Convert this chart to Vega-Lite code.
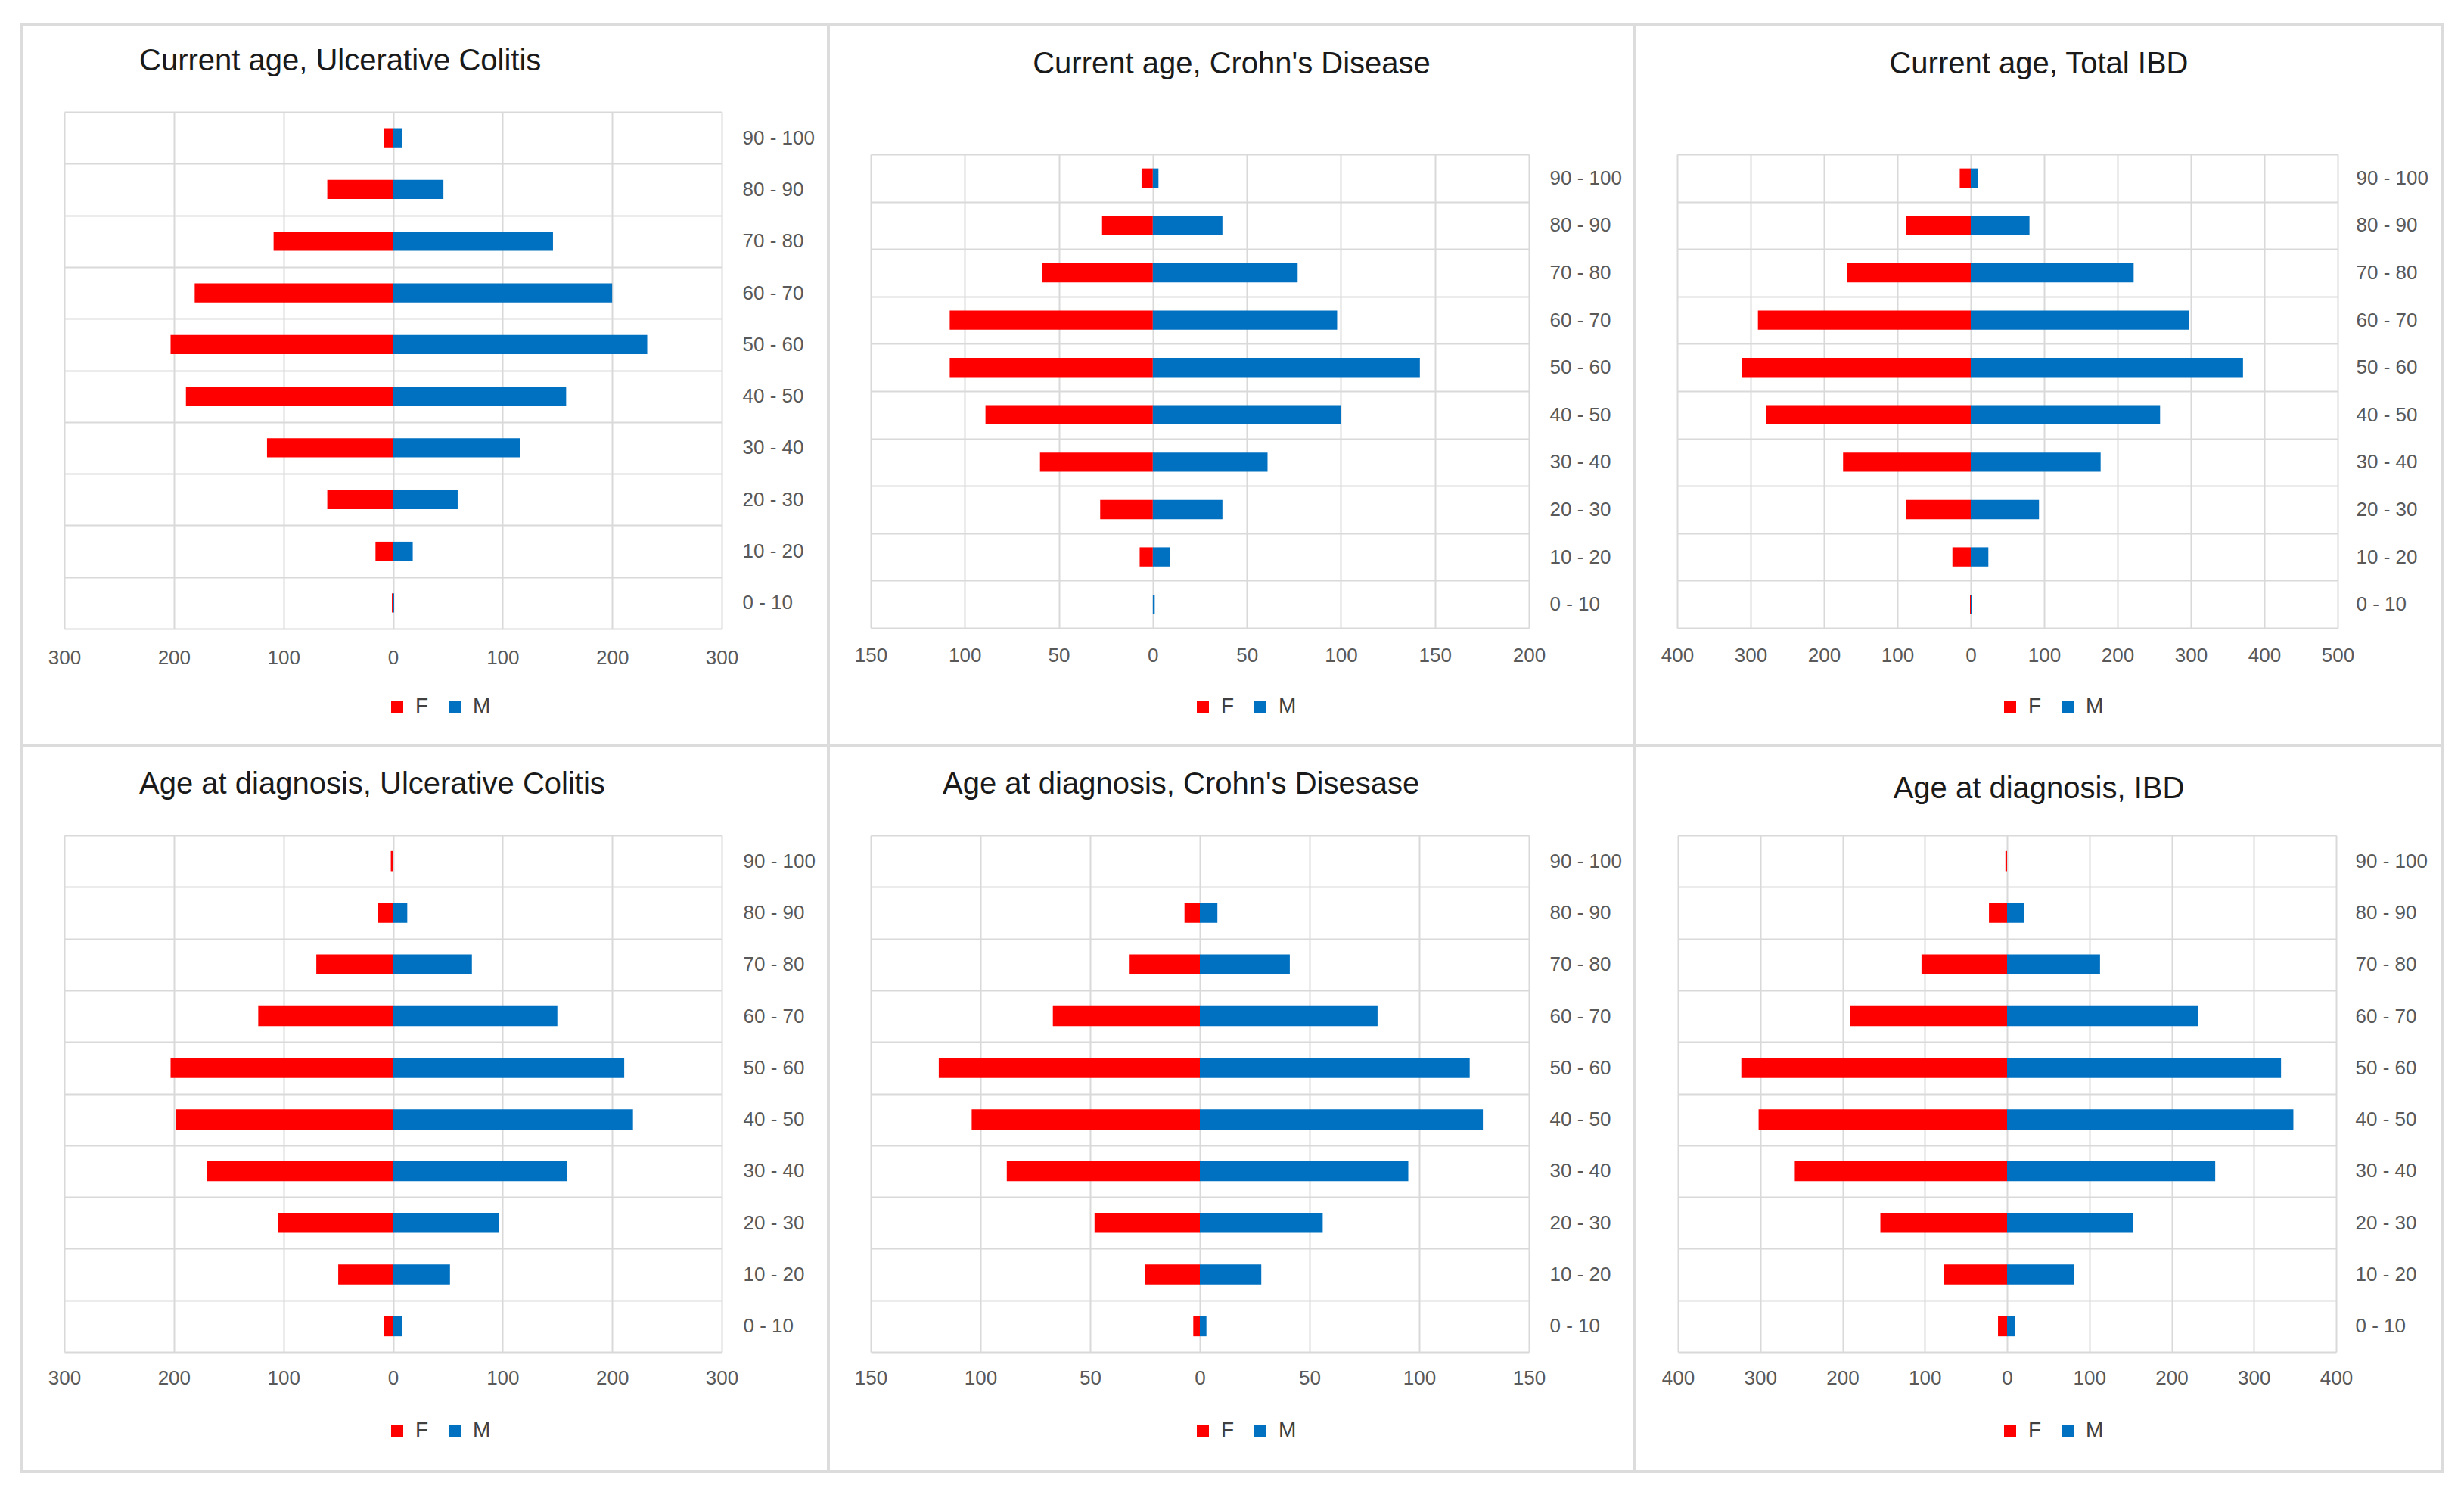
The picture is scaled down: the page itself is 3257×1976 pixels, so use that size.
{
  "$schema": "https://vega.github.io/schema/vega-lite/v6.json",
  "padding": {"left": 27, "top": 18, "right": 20, "bottom": 20},
  "background": "white",
  "config": {
    "font": "Liberation Sans",
    "view": {"stroke": "#dcdcdc", "strokeWidth": 4, "fill": "white"},
    "axis": {"domain": false, "ticks": false, "tickSize": 0, "gridColor": "#d9d9d9", "gridWidth": 2, "labelFontSize": 26, "labelColor": "#595959", "labelFlush": false, "labelOverlap": false, "labelBound": false, "labelFont": "Liberation Sans", "title": null},
    "legend": {"symbolType": "square", "symbolSize": 256, "labelFontSize": 28, "labelColor": "#404040", "labelFont": "Liberation Sans", "labelOffset": 10, "columnPadding": 20, "padding": 0, "symbolStrokeWidth": 0, "title": null},
    "title": {"fontSize": 40, "fontWeight": "normal", "color": "#1a1a1a", "font": "Liberation Sans"}
  },
  "datasets": {
    "p1": [
      {"age": "0 - 10", "sex": "F", "n": -1}, {"age": "0 - 10", "sex": "M", "n": 1},
      {"age": "10 - 20", "sex": "F", "n": -16}, {"age": "10 - 20", "sex": "M", "n": 18},
      {"age": "20 - 30", "sex": "F", "n": -60}, {"age": "20 - 30", "sex": "M", "n": 59},
      {"age": "30 - 40", "sex": "F", "n": -115}, {"age": "30 - 40", "sex": "M", "n": 116},
      {"age": "40 - 50", "sex": "F", "n": -189}, {"age": "40 - 50", "sex": "M", "n": 158},
      {"age": "50 - 60", "sex": "F", "n": -203}, {"age": "50 - 60", "sex": "M", "n": 232},
      {"age": "60 - 70", "sex": "F", "n": -181}, {"age": "60 - 70", "sex": "M", "n": 200},
      {"age": "70 - 80", "sex": "F", "n": -109}, {"age": "70 - 80", "sex": "M", "n": 146},
      {"age": "80 - 90", "sex": "F", "n": -60}, {"age": "80 - 90", "sex": "M", "n": 46},
      {"age": "90 - 100", "sex": "F", "n": -8}, {"age": "90 - 100", "sex": "M", "n": 8}
    ],
    "p2": [
      {"age": "0 - 10", "sex": "F", "n": 0}, {"age": "0 - 10", "sex": "M", "n": 1},
      {"age": "10 - 20", "sex": "F", "n": -7}, {"age": "10 - 20", "sex": "M", "n": 9},
      {"age": "20 - 30", "sex": "F", "n": -28}, {"age": "20 - 30", "sex": "M", "n": 37},
      {"age": "30 - 40", "sex": "F", "n": -60}, {"age": "30 - 40", "sex": "M", "n": 61},
      {"age": "40 - 50", "sex": "F", "n": -89}, {"age": "40 - 50", "sex": "M", "n": 100},
      {"age": "50 - 60", "sex": "F", "n": -108}, {"age": "50 - 60", "sex": "M", "n": 142},
      {"age": "60 - 70", "sex": "F", "n": -108}, {"age": "60 - 70", "sex": "M", "n": 98},
      {"age": "70 - 80", "sex": "F", "n": -59}, {"age": "70 - 80", "sex": "M", "n": 77},
      {"age": "80 - 90", "sex": "F", "n": -27}, {"age": "80 - 90", "sex": "M", "n": 37},
      {"age": "90 - 100", "sex": "F", "n": -6}, {"age": "90 - 100", "sex": "M", "n": 3}
    ],
    "p3": [
      {"age": "0 - 10", "sex": "F", "n": -1}, {"age": "0 - 10", "sex": "M", "n": 2},
      {"age": "10 - 20", "sex": "F", "n": -25}, {"age": "10 - 20", "sex": "M", "n": 24},
      {"age": "20 - 30", "sex": "F", "n": -88}, {"age": "20 - 30", "sex": "M", "n": 93},
      {"age": "30 - 40", "sex": "F", "n": -174}, {"age": "30 - 40", "sex": "M", "n": 177},
      {"age": "40 - 50", "sex": "F", "n": -279}, {"age": "40 - 50", "sex": "M", "n": 258},
      {"age": "50 - 60", "sex": "F", "n": -312}, {"age": "50 - 60", "sex": "M", "n": 371},
      {"age": "60 - 70", "sex": "F", "n": -290}, {"age": "60 - 70", "sex": "M", "n": 297},
      {"age": "70 - 80", "sex": "F", "n": -169}, {"age": "70 - 80", "sex": "M", "n": 222},
      {"age": "80 - 90", "sex": "F", "n": -88}, {"age": "80 - 90", "sex": "M", "n": 80},
      {"age": "90 - 100", "sex": "F", "n": -15}, {"age": "90 - 100", "sex": "M", "n": 10}
    ],
    "p4": [
      {"age": "0 - 10", "sex": "F", "n": -8}, {"age": "0 - 10", "sex": "M", "n": 8},
      {"age": "10 - 20", "sex": "F", "n": -50}, {"age": "10 - 20", "sex": "M", "n": 52},
      {"age": "20 - 30", "sex": "F", "n": -105}, {"age": "20 - 30", "sex": "M", "n": 97},
      {"age": "30 - 40", "sex": "F", "n": -170}, {"age": "30 - 40", "sex": "M", "n": 159},
      {"age": "40 - 50", "sex": "F", "n": -198}, {"age": "40 - 50", "sex": "M", "n": 219},
      {"age": "50 - 60", "sex": "F", "n": -203}, {"age": "50 - 60", "sex": "M", "n": 211},
      {"age": "60 - 70", "sex": "F", "n": -123}, {"age": "60 - 70", "sex": "M", "n": 150},
      {"age": "70 - 80", "sex": "F", "n": -70}, {"age": "70 - 80", "sex": "M", "n": 72},
      {"age": "80 - 90", "sex": "F", "n": -14}, {"age": "80 - 90", "sex": "M", "n": 13},
      {"age": "90 - 100", "sex": "F", "n": -2}, {"age": "90 - 100", "sex": "M", "n": 0}
    ],
    "p5": [
      {"age": "0 - 10", "sex": "F", "n": -3}, {"age": "0 - 10", "sex": "M", "n": 3},
      {"age": "10 - 20", "sex": "F", "n": -25}, {"age": "10 - 20", "sex": "M", "n": 28},
      {"age": "20 - 30", "sex": "F", "n": -48}, {"age": "20 - 30", "sex": "M", "n": 56},
      {"age": "30 - 40", "sex": "F", "n": -88}, {"age": "30 - 40", "sex": "M", "n": 95},
      {"age": "40 - 50", "sex": "F", "n": -104}, {"age": "40 - 50", "sex": "M", "n": 129},
      {"age": "50 - 60", "sex": "F", "n": -119}, {"age": "50 - 60", "sex": "M", "n": 123},
      {"age": "60 - 70", "sex": "F", "n": -67}, {"age": "60 - 70", "sex": "M", "n": 81},
      {"age": "70 - 80", "sex": "F", "n": -32}, {"age": "70 - 80", "sex": "M", "n": 41},
      {"age": "80 - 90", "sex": "F", "n": -7}, {"age": "80 - 90", "sex": "M", "n": 8},
      {"age": "90 - 100", "sex": "F", "n": 0}, {"age": "90 - 100", "sex": "M", "n": 0}
    ],
    "p6": [
      {"age": "0 - 10", "sex": "F", "n": -11}, {"age": "0 - 10", "sex": "M", "n": 10},
      {"age": "10 - 20", "sex": "F", "n": -77}, {"age": "10 - 20", "sex": "M", "n": 81},
      {"age": "20 - 30", "sex": "F", "n": -154}, {"age": "20 - 30", "sex": "M", "n": 153},
      {"age": "30 - 40", "sex": "F", "n": -258}, {"age": "30 - 40", "sex": "M", "n": 253},
      {"age": "40 - 50", "sex": "F", "n": -302}, {"age": "40 - 50", "sex": "M", "n": 348},
      {"age": "50 - 60", "sex": "F", "n": -323}, {"age": "50 - 60", "sex": "M", "n": 333},
      {"age": "60 - 70", "sex": "F", "n": -191}, {"age": "60 - 70", "sex": "M", "n": 232},
      {"age": "70 - 80", "sex": "F", "n": -104}, {"age": "70 - 80", "sex": "M", "n": 113},
      {"age": "80 - 90", "sex": "F", "n": -22}, {"age": "80 - 90", "sex": "M", "n": 21},
      {"age": "90 - 100", "sex": "F", "n": -2}, {"age": "90 - 100", "sex": "M", "n": 0}
    ]
  },
  "columns": 3,
  "spacing": 0,
  "bounds": "flush",
  "align": "each",
  "resolve": {"scale": {"color": "independent", "x": "independent", "y": "independent"}, "legend": {"color": "independent"}},
  "concat": [
    {
      "width": 1066, "height": 953,
      "data": {"name": "p1"},
      "title": {"text": "Current age, Ulcerative Colitis", "anchor": "start", "frame": "group", "dx": 155, "offset": -113, "baseline": "alphabetic"},
      "mark": {"type": "bar", "height": {"band": 0.37}},
      "encoding": {
        "y": {"field": "age", "type": "nominal", "scale": {"domain": ["90 - 100", "80 - 90", "70 - 80", "60 - 70", "50 - 60", "40 - 50", "30 - 40", "20 - 30", "10 - 20", "0 - 10"], "range": [115, 798], "paddingInner": 0, "paddingOuter": 0}, "axis": {"orient": "left", "offset": -925, "labelAlign": "left", "labelPadding": -27, "grid": true, "tickBand": "extent"}},
        "x": {"field": "n", "type": "quantitative", "stack": null, "scale": {"domain": [-300, 300], "range": [56, 925], "nice": false, "zero": false}, "axis": {"orient": "top", "offset": -798, "values": [-300, -200, -100, 0, 100, 200, 300], "labelExpr": "format(abs(datum.value), 'd')", "labelBaseline": "middle", "labelPadding": -38, "grid": true}},
        "color": {"field": "sex", "type": "nominal", "scale": {"domain": ["F", "M"], "range": ["#ff0000", "#0070c0"]}, "legend": {"orient": "none", "legendX": 482, "legendY": 887, "direction": "horizontal"}}
      }
    },
    {
      "width": 1066, "height": 953,
      "data": {"name": "p2"},
      "title": {"text": "Current age, Crohn's Disease", "anchor": "middle", "frame": "group", "offset": -117, "baseline": "alphabetic"},
      "mark": {"type": "bar", "height": {"band": 0.405}},
      "encoding": {
        "y": {"field": "age", "type": "nominal", "scale": {"domain": ["90 - 100", "80 - 90", "70 - 80", "60 - 70", "50 - 60", "40 - 50", "30 - 40", "20 - 30", "10 - 20", "0 - 10"], "range": [171, 797], "paddingInner": 0, "paddingOuter": 0}, "axis": {"orient": "left", "offset": -926, "labelAlign": "left", "labelPadding": -27, "grid": true, "tickBand": "extent"}},
        "x": {"field": "n", "type": "quantitative", "stack": null, "scale": {"domain": [-150, 200], "range": [56, 926], "nice": false, "zero": false}, "axis": {"orient": "top", "offset": -797, "values": [-150, -100, -50, 0, 50, 100, 150, 200], "labelExpr": "format(abs(datum.value), 'd')", "labelBaseline": "middle", "labelPadding": -36, "grid": true}},
        "color": {"field": "sex", "type": "nominal", "scale": {"domain": ["F", "M"], "range": ["#ff0000", "#0070c0"]}, "legend": {"orient": "none", "legendX": 481, "legendY": 887, "direction": "horizontal"}}
      }
    },
    {
      "width": 1068, "height": 953,
      "data": {"name": "p3"},
      "title": {"text": "Current age, Total IBD", "anchor": "middle", "frame": "group", "offset": -117, "baseline": "alphabetic"},
      "mark": {"type": "bar", "height": {"band": 0.405}},
      "encoding": {
        "y": {"field": "age", "type": "nominal", "scale": {"domain": ["90 - 100", "80 - 90", "70 - 80", "60 - 70", "50 - 60", "40 - 50", "30 - 40", "20 - 30", "10 - 20", "0 - 10"], "range": [171, 797], "paddingInner": 0, "paddingOuter": 0}, "axis": {"orient": "left", "offset": -929, "labelAlign": "left", "labelPadding": -24, "grid": true, "tickBand": "extent"}},
        "x": {"field": "n", "type": "quantitative", "stack": null, "scale": {"domain": [-400, 500], "range": [56, 929], "nice": false, "zero": false}, "axis": {"orient": "top", "offset": -797, "values": [-400, -300, -200, -100, 0, 100, 200, 300, 400, 500], "labelExpr": "format(abs(datum.value), 'd')", "labelBaseline": "middle", "labelPadding": -36, "grid": true}},
        "color": {"field": "sex", "type": "nominal", "scale": {"domain": ["F", "M"], "range": ["#ff0000", "#0070c0"]}, "legend": {"orient": "none", "legendX": 482, "legendY": 887, "direction": "horizontal"}}
      }
    },
    {
      "width": 1066, "height": 959,
      "data": {"name": "p4"},
      "title": {"text": "Age  at diagnosis, Ulcerative Colitis", "anchor": "start", "frame": "group", "dx": 155, "offset": -116, "baseline": "alphabetic"},
      "mark": {"type": "bar", "height": {"band": 0.39}},
      "encoding": {
        "y": {"field": "age", "type": "nominal", "scale": {"domain": ["90 - 100", "80 - 90", "70 - 80", "60 - 70", "50 - 60", "40 - 50", "30 - 40", "20 - 30", "10 - 20", "0 - 10"], "range": [118, 801], "paddingInner": 0, "paddingOuter": 0}, "axis": {"orient": "left", "offset": -925, "labelAlign": "left", "labelPadding": -28, "grid": true, "tickBand": "extent"}},
        "x": {"field": "n", "type": "quantitative", "stack": null, "scale": {"domain": [-300, 300], "range": [56, 925], "nice": false, "zero": false}, "axis": {"orient": "top", "offset": -801, "values": [-300, -200, -100, 0, 100, 200, 300], "labelExpr": "format(abs(datum.value), 'd')", "labelBaseline": "middle", "labelPadding": -34, "grid": true}},
        "color": {"field": "sex", "type": "nominal", "scale": {"domain": ["F", "M"], "range": ["#ff0000", "#0070c0"]}, "legend": {"orient": "none", "legendX": 482, "legendY": 891, "direction": "horizontal"}}
      }
    },
    {
      "width": 1066, "height": 959,
      "data": {"name": "p5"},
      "title": {"text": "Age  at diagnosis, Crohn's Disesase", "anchor": "start", "frame": "group", "dx": 151, "offset": -116, "baseline": "alphabetic"},
      "mark": {"type": "bar", "height": {"band": 0.39}},
      "encoding": {
        "y": {"field": "age", "type": "nominal", "scale": {"domain": ["90 - 100", "80 - 90", "70 - 80", "60 - 70", "50 - 60", "40 - 50", "30 - 40", "20 - 30", "10 - 20", "0 - 10"], "range": [118, 801], "paddingInner": 0, "paddingOuter": 0}, "axis": {"orient": "left", "offset": -926, "labelAlign": "left", "labelPadding": -27, "grid": true, "tickBand": "extent"}},
        "x": {"field": "n", "type": "quantitative", "stack": null, "scale": {"domain": [-150, 150], "range": [56, 926], "nice": false, "zero": false}, "axis": {"orient": "top", "offset": -801, "values": [-150, -100, -50, 0, 50, 100, 150], "labelExpr": "format(abs(datum.value), 'd')", "labelBaseline": "middle", "labelPadding": -34, "grid": true}},
        "color": {"field": "sex", "type": "nominal", "scale": {"domain": ["F", "M"], "range": ["#ff0000", "#0070c0"]}, "legend": {"orient": "none", "legendX": 481, "legendY": 891, "direction": "horizontal"}}
      }
    },
    {
      "width": 1068, "height": 959,
      "data": {"name": "p6"},
      "title": {"text": "Age at diagnosis, IBD", "anchor": "middle", "frame": "group", "offset": -122, "baseline": "alphabetic"},
      "mark": {"type": "bar", "height": {"band": 0.39}},
      "encoding": {
        "y": {"field": "age", "type": "nominal", "scale": {"domain": ["90 - 100", "80 - 90", "70 - 80", "60 - 70", "50 - 60", "40 - 50", "30 - 40", "20 - 30", "10 - 20", "0 - 10"], "range": [118, 801], "paddingInner": 0, "paddingOuter": 0}, "axis": {"orient": "left", "offset": -927, "labelAlign": "left", "labelPadding": -25, "grid": true, "tickBand": "extent"}},
        "x": {"field": "n", "type": "quantitative", "stack": null, "scale": {"domain": [-400, 400], "range": [57, 927], "nice": false, "zero": false}, "axis": {"orient": "top", "offset": -801, "values": [-400, -300, -200, -100, 0, 100, 200, 300, 400], "labelExpr": "format(abs(datum.value), 'd')", "labelBaseline": "middle", "labelPadding": -34, "grid": true}},
        "color": {"field": "sex", "type": "nominal", "scale": {"domain": ["F", "M"], "range": ["#ff0000", "#0070c0"]}, "legend": {"orient": "none", "legendX": 482, "legendY": 891, "direction": "horizontal"}}
      }
    }
  ]
}
